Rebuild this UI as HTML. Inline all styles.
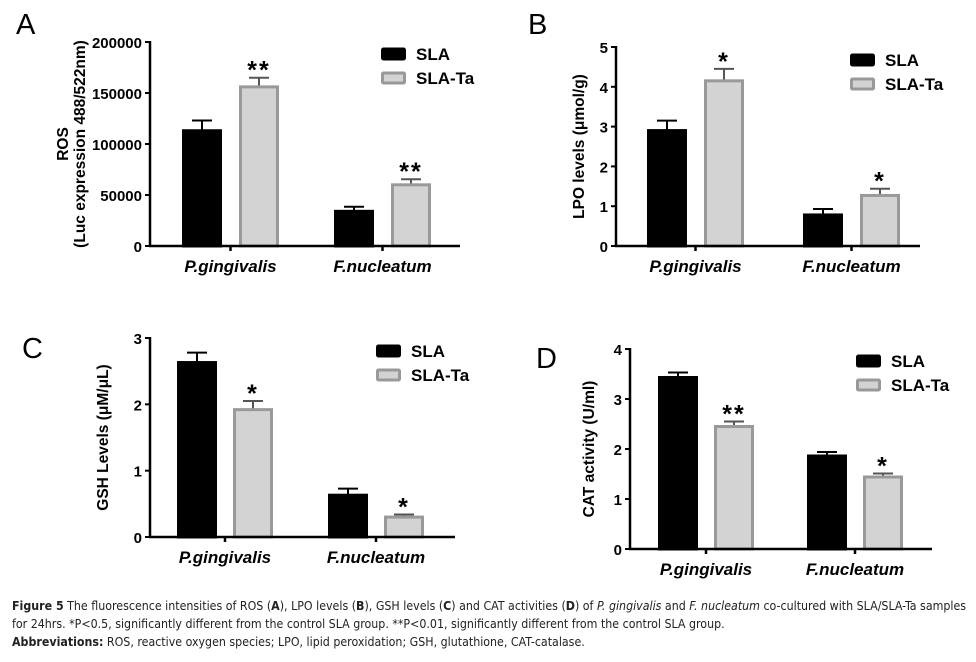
<!DOCTYPE html>
<html><head><meta charset="utf-8"><style>
body{margin:0;background:#fff;width:976px;height:662px;overflow:hidden;font-family:"Liberation Sans",Arial,sans-serif}
svg{position:absolute;left:0;top:0;font-family:"Liberation Sans",Arial,sans-serif}
svg text{font-family:"Liberation Sans",Arial,sans-serif}
.cap{position:absolute;left:12px;font-size:12.3px;color:#222;white-space:nowrap;font-family:"DejaVu Sans Condensed","Liberation Sans",sans-serif;transform-origin:left top}
</style></head><body>
<svg id="fig" width="976" height="662"></svg>
<div class="cap" style="top:599px"><b>Figure 5</b> The fluorescence intensities of ROS (<b>A</b>), LPO levels (<b>B</b>), GSH levels (<b>C</b>) and CAT activities (<b>D</b>) of <i>P. gingivalis</i> and <i>F. nucleatum</i> co-cultured with SLA/SLA-Ta samples</div>
<div class="cap" style="top:617px">for 24hrs. *P&lt;0.5, significantly different from the control SLA group. **P&lt;0.01, significantly different from the control SLA group.</div>
<div class="cap" style="top:635px"><b>Abbreviations:</b> ROS, reactive oxygen species; LPO, lipid peroxidation; GSH, glutathione, CAT-catalase.</div>
<script>
const categories=["P.gingivalis","F.nucleatum"];
const seriesNames=["SLA","SLA-Ta"];
const rosSLA=[113000,34000], rosSLAerr=[10000,4500], rosTa=[156000,60000], rosTaerr=[9000,5500], rosStars=["**","**"];
const lpoSLA=[2.9,0.78], lpoSLAerr=[0.25,0.15], lpoTa=[4.15,1.27], lpoTaerr=[0.3,0.17], lpoStars=["*","*"];
const gshSLA=[2.63,0.63], gshSLAerr=[0.15,0.1], gshTa=[1.92,0.3], gshTaerr=[0.13,0.04], gshStars=["*","*"];
const catSLA=[3.43,1.86], catSLAerr=[0.1,0.08], catTa=[2.45,1.44], catTaerr=[0.1,0.07], catStars=["**","*"];
const rosTicks=[0,50000,100000,150000,200000];
const lpoTicks=[0,1,2,3,4,5];
const gshTicks=[0,1,2,3];
const catTicks=[0,1,2,3,4];

const svg=document.getElementById('fig');
const NS="http://www.w3.org/2000/svg";
function mk(tag,attrs,parent,name){const el=document.createElementNS(NS,tag);for(const k in attrs)el.setAttribute(k,attrs[k]);


parent.appendChild(el);return el;}
function panel(p){
  const g=mk('g',{},svg,'panel-'+p.id);
  const sy=v=>p.y0-(v-p.ticks[0])/(p.ticks[p.ticks.length-1]-p.ticks[0])*(p.y0-p.yTop);
  mk('text',{x:p.lx,y:p.ly,'font-size':29},g,'panel-label').textContent=p.id;
  const w=40;
  categories.forEach((c,i)=>{
    const xs=[p.bx[i],p.bx[i]+p.gap];
    [p.a,p.b].forEach((s,j)=>{
      const v=s[0][i],er=s[1][i],bx=xs[j];
      const col=j==0?'#000':'#d3d3d3';
      mk('line',{x1:bx+w/2,x2:bx+w/2,y1:sy(v),y2:sy(v+er),stroke:j==0?'#000':'#555','stroke-width':2},g,'error-bar');
      mk('line',{x1:bx+w/2-10,x2:bx+w/2+10,y1:sy(v+er),y2:sy(v+er),stroke:j==0?'#000':'#555','stroke-width':2},g,'error-cap');
      mk('rect',{x:bx+1.5,y:sy(v),width:w-3,height:p.y0-sy(v),fill:col,stroke:j==0?'#000':'#999','stroke-width':3},g,'bar-'+seriesNames[j].toLowerCase()+'-'+i);
      if(j==1){mk('text',{x:bx+w/2,y:sy(v+er)+1,'font-size':25,'font-weight':'bold','text-anchor':'middle','letter-spacing':2},g,'significance-star').textContent=p.stars[i];}
    });
    mk('line',{x1:p.bx[i]+w/2+p.gap/2,x2:p.bx[i]+w/2+p.gap/2,y1:p.y0,y2:p.y0+5,stroke:'#000','stroke-width':2.5},g,'x-tick');
    mk('text',{x:p.bx[i]+w/2+p.gap/2,y:p.y0+26,'font-size':17,'font-weight':'bold','font-style':'italic','text-anchor':'middle'},g,'x-category-label').textContent=c;
  });
  mk('line',{x1:p.ax,x2:p.ax,y1:p.yTop-1,y2:p.y0+1,stroke:'#000','stroke-width':2.5},g,'y-axis');
  mk('line',{x1:p.ax-1,x2:p.axEnd,y1:p.y0,y2:p.y0,stroke:'#000','stroke-width':2.5},g,'x-axis');
  p.ticks.forEach(t=>{
    mk('line',{x1:p.ax-5,x2:p.ax,y1:sy(t),y2:sy(t),stroke:'#000','stroke-width':2},g,'y-tick');
    mk('text',{x:p.ax-8,y:sy(t)+6,'font-size':15,'font-weight':'bold','text-anchor':'end'},g,'y-tick-label').textContent=t;
  });
  p.titles.forEach((t,k)=>{
    const tx=p.tx+k*17,ty=(p.y0+p.yTop)/2;
    mk('text',{x:tx,y:ty,'font-size':15.5,'font-weight':'bold','text-anchor':'middle',transform:'rotate(-90 '+tx+' '+ty+')'},g,'y-axis-title').textContent=t;
  });
  seriesNames.forEach((s,j)=>{
    const ly=p.legY+j*24;
    mk('rect',{x:p.legX+1.5,y:ly-5,width:22,height:10,fill:j==0?'#000':'#d3d3d3',stroke:j==0?'#000':'#999','stroke-width':3,rx:1},g,'legend-swatch');
    mk('text',{x:p.legX+35,y:ly+6,'font-size':17,'font-weight':'bold'},g,'legend-entry').textContent=s;
  });
}
panel({id:'A',lx:16,ly:34,ax:150,axEnd:460,y0:246,yTop:42,ticks:rosTicks,bx:[182,334],gap:57,a:[rosSLA,rosSLAerr],b:[rosTa,rosTaerr],stars:rosStars,titles:["ROS","(Luc expression 488/522nm)"],tx:68,legX:381,legY:54});
panel({id:'B',lx:528,ly:34,ax:616,axEnd:920,y0:246,yTop:47,ticks:lpoTicks,bx:[647,803],gap:57,a:[lpoSLA,lpoSLAerr],b:[lpoTa,lpoTaerr],stars:lpoStars,titles:["LPO levels (\u03bcmol/g)"],tx:584,legX:850,legY:60});
panel({id:'C',lx:22,ly:358,ax:150,axEnd:455,y0:537,yTop:338,ticks:gshTicks,bx:[177,328],gap:56,a:[gshSLA,gshSLAerr],b:[gshTa,gshTaerr],stars:gshStars,titles:["GSH  Levels (\u03bcM/\u03bcL)"],tx:108,legX:376,legY:351});
panel({id:'D',lx:536,ly:368,ax:630,axEnd:932,y0:549,yTop:349,ticks:catTicks,bx:[658,807],gap:56,a:[catSLA,catSLAerr],b:[catTa,catTaerr],stars:catStars,titles:["CAT activity (U/ml)"],tx:594,legX:856,legY:361});
</script>
</body></html>
